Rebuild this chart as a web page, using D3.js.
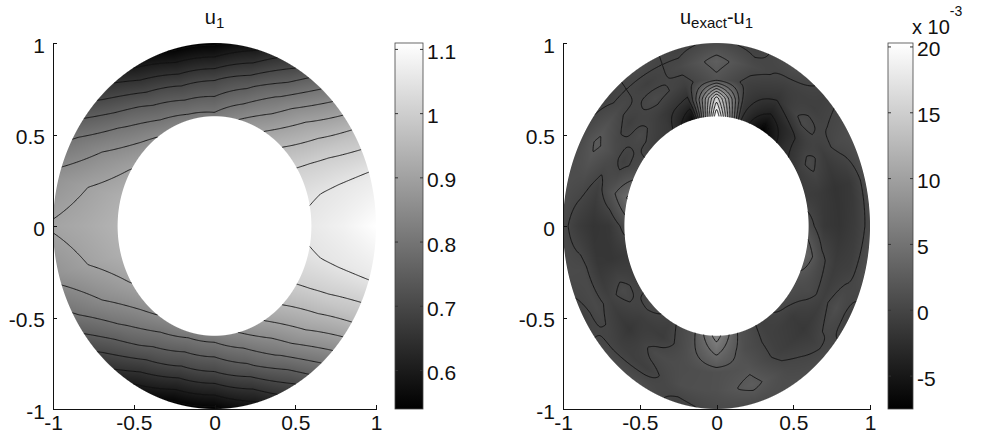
<!DOCTYPE html>
<html>
<head>
<meta charset="utf-8">
<script src="https://cdn.jsdelivr.net/npm/d3@7"></script>
<style>
  body { margin: 0; background: #fff; }
  svg { display: block; font-family: "Liberation Sans", Arial, sans-serif; }
  .axis path, .axis line { stroke: #111; shape-rendering: crispEdges; }
  .axis text { fill: #111; font-size: 21px; }
</style>
</head>
<body>
<svg id="chart" width="991" height="443"></svg>
<script>
// mesh: node angles (degrees, counter-clockwise from +x) and ring radii
var meshAngles = [0, 15, 30, 45, 60, 75, 90, 105, 120, 135, 150, 165,
                  180, 195, 210, 225, 240, 255, 270, 285, 300, 315, 330, 345];

// u_1 nodal values
var u1Radii = [0.6, 0.8, 1.0];
var u1R06 = [1.060, 1.046, 1.007, 0.953, 0.898, 0.852, 0.812, 0.820, 0.838, 0.869, 0.903, 0.930,
             0.940, 0.930, 0.903, 0.869, 0.838, 0.820, 0.822, 0.852, 0.898, 0.953, 1.007, 1.046];
var u1R08 = [1.080, 1.056, 0.990, 0.901, 0.809, 0.737, 0.697, 0.695, 0.729, 0.787, 0.852, 0.902,
             0.920, 0.902, 0.852, 0.787, 0.729, 0.695, 0.697, 0.737, 0.809, 0.901, 0.990, 1.056];
var u1R10 = [1.110, 1.064, 0.965, 0.831, 0.698, 0.595, 0.540, 0.543, 0.598, 0.689, 0.791, 0.870,
             0.905, 0.870, 0.791, 0.689, 0.598, 0.543, 0.540, 0.595, 0.698, 0.831, 0.965, 1.064];
var u1Levels = [0.55, 0.6, 0.65, 0.7, 0.75, 0.8, 0.85, 0.9, 0.95, 1.0, 1.05];
var u1BarTicks = [0.6, 0.7, 0.8, 0.9, 1, 1.1];

// u_exact - u_1 nodal values (x 10^-3)
var errRadii = [0.6, 0.7, 0.8, 0.9, 1.0];
var errR06 = [0.8, -0.8, -1.2, -2.6, -7.5, -1.8, 20.3, -6.5, -1.4, -0.6, 0.8, 4.2,
              0.6, -1.2, -0.6, 0.6, -0.5, 1.4, 7.0, 1.3, -0.6, 0.5, 1.1, 3.4];
var errR07 = [-1.4, -1.2, 0.6, -2.4, -4.2, -1.2, 15.0, -2.6, -1.2, 0.6, -0.6, 1.6,
              -1.5, -1.6, 0.6, -0.8, -1.0, 1.2, 4.2, 1.0, -0.5, -1.1, 0.6, 0.5];
var errR08 = [-1.8, -1.9, -0.8, 0.6, -1.8, -0.6, 1.5, -0.6, 0.6, -0.7, 1.0, -0.6,
              -1.8, -1.5, -0.5, -1.6, 0.6, 0.9, 1.2, 1.6, -0.5, -1.4, -0.6, -1.0];
var errR09 = [-1.0, -1.4, 0.5, -0.6, -0.5, 0.6, 2.8, 0.5, -0.6, 0.5, 2.4, 0.6,
              -1.0, 0.5, 0.5, -0.6, -0.6, 1.0, 1.2, 2.6, 0.5, -0.5, 1.0, -0.6];
var errR10 = [0.5, 0.6, 1.0, -0.5, 1.0, -0.5, 0.5, -0.5, 0.6, -0.5, 0.5, 1.0,
              0.5, 0.6, -0.5, 0.5, 1.0, -0.5, 0.5, 0.6, 1.0, 0.5, -0.6, 1.0];
var errLevels = [-6, -4, -2, 0, 2, 4, 6, 8, 10, 12, 14, 16, 18];
var errBarTicks = [-5, 0, 5, 10, 15, 20];

var axisTicks = [-1, -0.5, 0, 0.5, 1];

var svg = d3.select("#chart");

// value at (x, y) from the polar mesh (bilinear between nodes, like interp shading)
function makeField(radii, rings) {
  var n = meshAngles.length, step = 360 / n;
  return function(x, y) {
    var r = Math.sqrt(x * x + y * y);
    r = Math.max(radii[0], Math.min(radii[radii.length - 1], r));
    var a = Math.atan2(y, x) * 180 / Math.PI;
    if (a < 0) a += 360;
    var j = Math.floor(a / step) % n, j2 = (j + 1) % n;
    var t = (a - meshAngles[j]) / step;
    var i = 0;
    while (i < radii.length - 2 && r > radii[i + 1]) i++;
    var s = (r - radii[i]) / (radii[i + 1] - radii[i]);
    var v0 = rings[i][j] * (1 - t) + rings[i][j2] * t;
    var v1 = rings[i + 1][j] * (1 - t) + rings[i + 1][j2] * t;
    return v0 * (1 - s) + v1 * s;
  };
}

function drawPanel(cfg) {
  var xs = d3.scaleLinear().domain([-1, 1]).range([cfg.left, cfg.right]);
  var ys = d3.scaleLinear().domain([-1, 1]).range([cfg.bottom, cfg.top]);
  var field = makeField(cfg.radii, cfg.rings);
  var ext = d3.extent([].concat.apply([], cfg.rings));
  var gray = d3.scaleLinear().domain(ext).range([0, 255]).clamp(true);
  var rIn = cfg.radii[0], rOut = cfg.radii[cfg.radii.length - 1];

  // shaded field -> canvas -> svg image
  var W = Math.round(cfg.right - cfg.left), H = Math.round(cfg.bottom - cfg.top);
  var cv = document.createElement("canvas");
  cv.width = W; cv.height = H;
  var ctx = cv.getContext("2d"), img = ctx.createImageData(W, H);
  var k = (W + H) / 4;
  for (var py = 0; py < H; py++) {
    for (var px = 0; px < W; px++) {
      var x = xs.invert(cfg.left + px + 0.5), y = ys.invert(cfg.top + py + 0.5);
      var r = Math.sqrt(x * x + y * y);
      var a = Math.min((rOut - r) * k + 0.5, (r - rIn) * k + 0.5);
      if (a <= 0) continue;
      var g = Math.round(gray(field(x, y)));
      var o = (py * W + px) * 4;
      img.data[o] = g; img.data[o + 1] = g; img.data[o + 2] = g;
      img.data[o + 3] = Math.round(255 * Math.min(1, a));
    }
  }
  ctx.putImageData(img, 0, 0);
  svg.append("image")
    .attr("x", cfg.left).attr("y", cfg.top)
    .attr("width", W).attr("height", H)
    .attr("href", cv.toDataURL());

  // annulus clip for contour lines
  var cx = xs(0), cy = ys(0);
  function ell(rr) {
    var rx = xs(rr) - cx, ry = cy - ys(rr);
    return "M" + (cx + rx) + "," + cy + "A" + rx + "," + ry + " 0 1 0 " + (cx - rx) + "," + cy +
           "A" + rx + "," + ry + " 0 1 0 " + (cx + rx) + "," + cy + "Z";
  }
  svg.append("clipPath").attr("id", cfg.id + "-clip")
    .append("path").attr("d", ell(rOut) + ell(rIn)).attr("clip-rule", "evenodd");

  // contour lines on a fine grid
  var n = 300, g0 = -1.03, d = 2.06 / (n - 1);
  var grid = new Array(n * n);
  for (var gj = 0; gj < n; gj++)
    for (var gi = 0; gi < n; gi++)
      grid[gj * n + gi] = field(g0 + gi * d, -g0 - gj * d);
  var contours = d3.contours().size([n, n]).thresholds(cfg.levels)(grid);
  var proj = d3.geoTransform({
    point: function(px, py) {
      this.stream.point(xs(g0 + (px - 0.5) * d), ys(-g0 - (py - 0.5) * d));
    }
  });
  svg.append("g").attr("clip-path", "url(#" + cfg.id + "-clip)")
    .selectAll("path").data(contours).enter().append("path")
    .attr("d", d3.geoPath(proj))
    .attr("fill", "none")
    .attr("stroke", "#111")
    .attr("stroke-width", 0.9);

  // axes: left and bottom only, ticks inward
  var fmt = function(v) { return String(v); };
  svg.append("g").attr("class", "axis")
    .attr("transform", "translate(0," + cfg.bottom + ")")
    .call(d3.axisBottom(xs).tickValues(axisTicks).tickFormat(fmt)
      .tickSizeInner(-4).tickSizeOuter(0).tickPadding(6));
  svg.append("g").attr("class", "axis")
    .attr("transform", "translate(" + cfg.left + ",0)")
    .call(d3.axisLeft(ys).tickValues(axisTicks).tickFormat(fmt)
      .tickSizeInner(-4).tickSizeOuter(0).tickPadding(8))
    .selectAll("text").attr("dy", "0.45em");

  // title
  var tt = svg.append("text")
    .attr("x", (cfg.left + cfg.right) / 2).attr("y", 24)
    .attr("text-anchor", "middle").attr("font-size", 20).attr("fill", "#111");
  cfg.title.forEach(function(part) {
    var ts = tt.append("tspan").text(part[0]);
    if (part[1] === "sub") ts.attr("font-size", 15).attr("dy", 4);
    else if (part[1] === "back") ts.attr("dy", -4);
  });

  // colorbar
  var bs = d3.scaleLinear().domain(ext).range([cfg.bottom, cfg.top]);
  var grad = svg.append("defs").append("linearGradient").attr("id", cfg.id + "-grad")
    .attr("x1", 0).attr("y1", 1).attr("x2", 0).attr("y2", 0);
  grad.append("stop").attr("offset", 0).attr("stop-color", "#000");
  grad.append("stop").attr("offset", 1).attr("stop-color", "#fff");
  svg.append("rect")
    .attr("x", cfg.barX).attr("y", cfg.top)
    .attr("width", cfg.barW).attr("height", cfg.bottom - cfg.top)
    .attr("fill", "url(#" + cfg.id + "-grad)")
    .attr("stroke", "#444").attr("stroke-width", 0.8);
  var bt = svg.append("g").selectAll("g").data(cfg.barTicks).enter().append("g")
    .attr("transform", function(v) { return "translate(0," + bs(v) + ")"; });
  bt.append("line").attr("x1", cfg.barX).attr("x2", cfg.barX + 3)
    .attr("stroke", "#333");
  bt.append("line").attr("x1", cfg.barX + cfg.barW - 3).attr("x2", cfg.barX + cfg.barW)
    .attr("stroke", "#333");
  bt.append("text")
    .attr("x", cfg.barX + cfg.barW + 4).attr("dy", "0.45em")
    .attr("font-size", 21).attr("fill", "#111")
    .text(function(v) { return String(v); });
}

drawPanel({
  id: "u1", left: 53, right: 376, top: 43, bottom: 409,
  radii: u1Radii, rings: [u1R06, u1R08, u1R10], levels: u1Levels,
  barX: 395, barW: 28, barTicks: u1BarTicks,
  title: [["u"], ["1", "sub"]]
});

drawPanel({
  id: "err", left: 563, right: 870, top: 43, bottom: 409,
  radii: errRadii, rings: [errR06, errR07, errR08, errR09, errR10], levels: errLevels,
  barX: 888, barW: 25, barTicks: errBarTicks,
  title: [["u"], ["exact", "sub"], ["-u", "back"], ["1", "sub"]]
});

// colorbar exponent
var expo = svg.append("text").attr("x", 912).attr("y", 34)
  .attr("font-size", 20).attr("fill", "#111");
expo.append("tspan").text("x 10");
expo.append("tspan").attr("font-size", 14).attr("dy", -18).text("-3");
</script>
</body>
</html>
